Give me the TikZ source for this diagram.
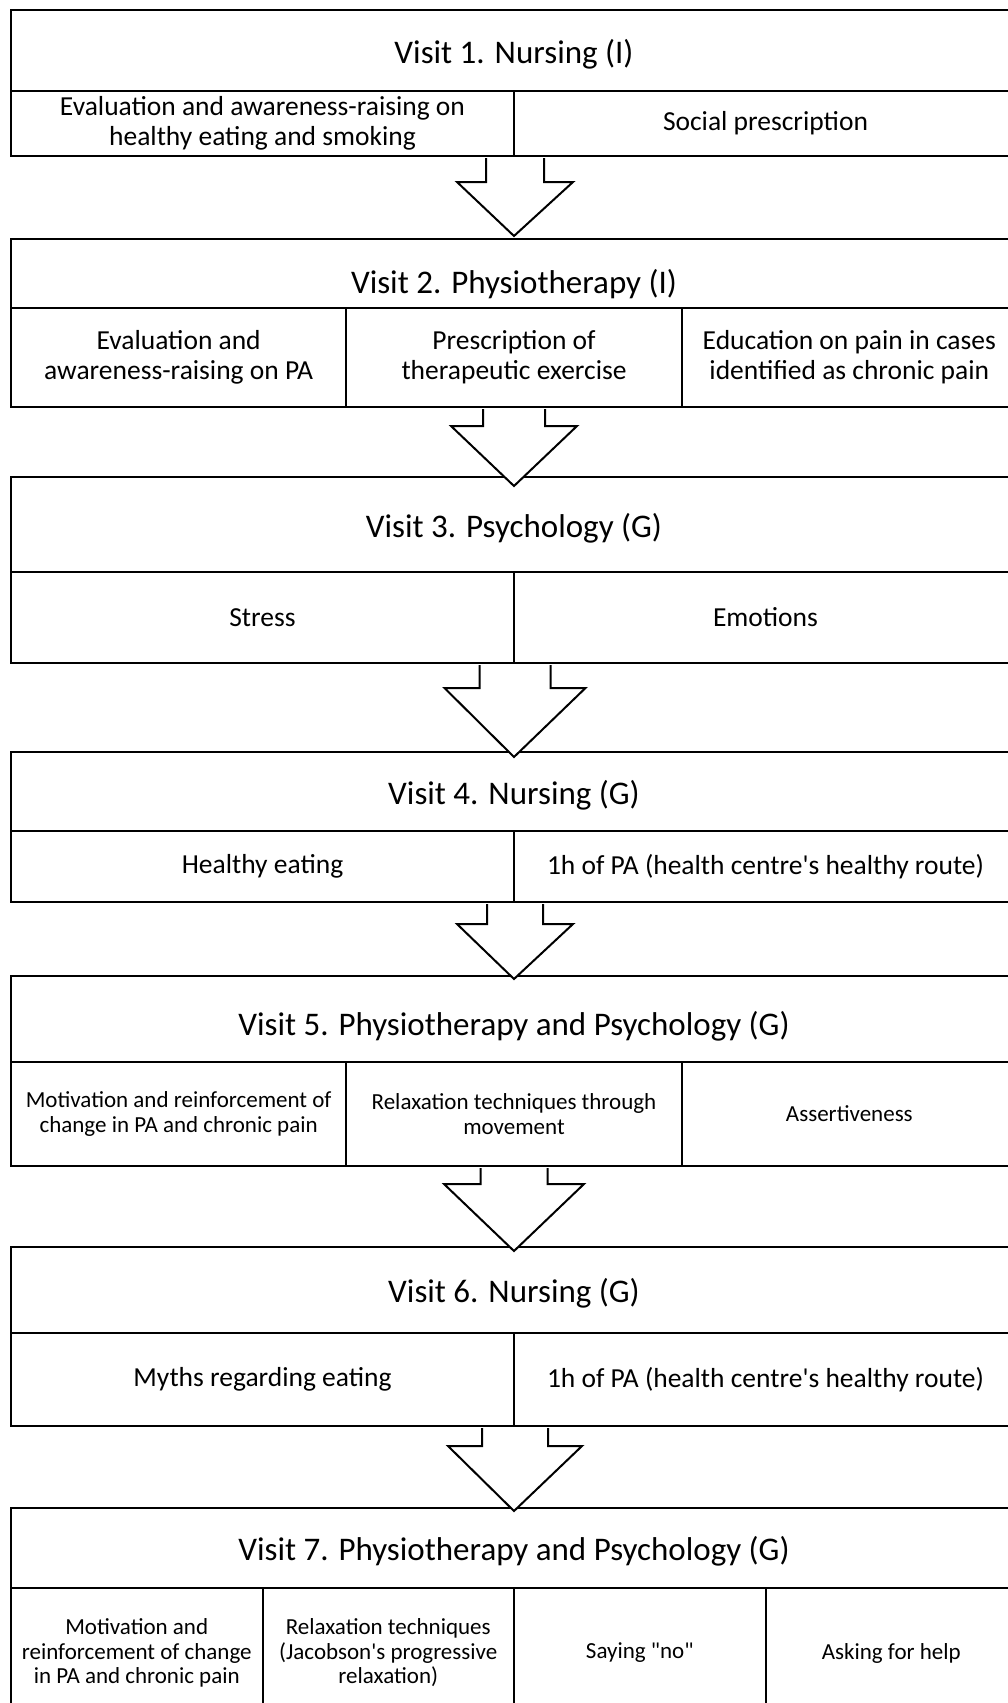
\documentclass[tikz,border=0pt]{standalone}
\usepackage{fontspec}
\newfontfamily\carlito{Carlito}
\usetikzlibrary{calc}

\begin{document}
\begin{tikzpicture}[x=1pt,y=-1pt,
	visit/.style={draw,rectangle,line width=2pt,inner sep=0pt,minimum width=1006pt,text height=26pt,text depth=0pt,font=\carlito\fontsize{33}{36}\selectfont},
	item/.style={draw,rectangle,line width=2pt,inner sep=0pt,align=center,font=\carlito\fontsize{27.5}{30}\selectfont},
	smallitem/.style={item,font=\carlito\fontsize{23}{24.5}\selectfont},
	blockarrow/.style={draw,fill=white,line width=2pt,line join=miter}]
		\useasboundingbox (0,0) rectangle (1008,1703);
		\clip (0,0) rectangle (1008,1703);
		% visit 1
		\node (v1)  [visit,minimum height=81pt] at (514,50.5) {Visit 1. Nursing (I)};
		\node (v1a) [item,minimum width=503pt,minimum height=65pt] at (262.5,123.5) {Evaluation and awareness-raising on\\healthy eating and smoking};
		\node (v1b) [item,minimum width=503pt,minimum height=65pt] at (765.5,123.5) {Social prescription};
		% visit 2
		\node (v2)  [visit,minimum height=69pt,text height=40pt] at (514,273.5) {Visit 2. Physiotherapy (I)};
		\node (v2a) [item,minimum width=335.33pt,minimum height=99pt] at (178.67,357.5) {Evaluation and\\awareness-raising on PA};
		\node (v2b) [item,minimum width=335.33pt,minimum height=99pt] at (514,357.5) {Prescription of\\therapeutic exercise};
		\node (v2c) [item,minimum width=335.33pt,minimum height=99pt] at (849.33,357.5) {Education on pain in cases\\identified as chronic pain};
		% visit 3
		\node (v3)  [visit,minimum height=95pt] at (514,524.5) {Visit 3. Psychology (G)};
		\node (v3a) [item,minimum width=503pt,minimum height=91pt] at (262.5,617.5) {Stress};
		\node (v3b) [item,minimum width=503pt,minimum height=91pt] at (765.5,617.5) {Emotions};
		% visit 4
		\node (v4)  [visit,minimum height=79pt] at (514,791.5) {Visit 4. Nursing (G)};
		\node (v4a) [item,minimum width=503pt,minimum height=71pt] at (262.5,866.5) {Healthy eating};
		\node (v4b) [item,minimum width=503pt,minimum height=71pt] at (765.5,866.5) {1h of PA (health centre's healthy route)};
		% visit 5
		\node (v5)  [visit,minimum height=86pt,text height=32pt] at (514,1019) {Visit 5. Physiotherapy and Psychology (G)};
		\node (v5a) [smallitem,minimum width=335.33pt,minimum height=104pt] at (178.67,1114) {Motivation and reinforcement of\\change in PA and chronic pain};
		\node (v5b) [smallitem,minimum width=335.33pt,minimum height=104pt] at (514,1114) {Relaxation techniques through\\movement};
		\node (v5c) [smallitem,minimum width=335.33pt,minimum height=104pt] at (849.33,1114) {Assertiveness};
		% visit 6
		\node (v6)  [visit,minimum height=86pt,text height=25pt] at (514,1290) {Visit 6. Nursing (G)};
		\node (v6a) [item,minimum width=503pt,minimum height=93pt] at (262.5,1379.5) {Myths regarding eating};
		\node (v6b) [item,minimum width=503pt,minimum height=93pt] at (765.5,1379.5) {1h of PA (health centre's healthy route)};
		% visit 7
		\node (v7)  [visit,minimum height=80pt,text height=25pt] at (514,1548) {Visit 7. Physiotherapy and Psychology (G)};
		\node (v7a) [smallitem,minimum width=251.5pt,minimum height=130pt] at (136.75,1653) {Motivation and\\reinforcement of change\\in PA and chronic pain};
		\node (v7b) [smallitem,minimum width=251.5pt,minimum height=130pt] at (388.25,1653) {Relaxation techniques\\(Jacobson's progressive\\relaxation)};
		\node (v7c) [smallitem,minimum width=251.5pt,minimum height=130pt] at (639.75,1653) {Saying "no"};
		\node (v7d) [smallitem,minimum width=251.5pt,minimum height=130pt] at (891.25,1653) {Asking for help};
		% arrows between visits
		\draw [blockarrow] ($(v1a.south east)+(-29,1)$) -- ++(0,24) -- ++(-29,0) -- ($(v2.north)+(0,-2)$) -- ($(v1a.south east)+(58,25)$) -- ++(-29,0) -- ++(0,-24);
		\draw [blockarrow] ($(v2b.south)+(-31,1)$) -- ++(0,17) -- ++(-32,0) -- ($(v3.north)+(0,10)$) -- ($(v2b.south)+(63,18)$) -- ++(-32,0) -- ++(0,-17);
		\draw [blockarrow] ($(v3a.south east)+(-35.5,1)$) -- ++(0,23) -- ++(-35,0) -- ($(v4.north)+(0,6)$) -- ($(v3a.south east)+(70.5,24)$) -- ++(-35,0) -- ++(0,-23);
		\draw [blockarrow] ($(v4a.south east)+(-28,1)$) -- ++(0,20) -- ++(-30,0) -- ($(v5.north)+(0,4)$) -- ($(v4a.south east)+(58,21)$) -- ++(-30,0) -- ++(0,-20);
		\draw [blockarrow] ($(v5b.south)+(-33.5,1)$) -- ++(0,16) -- ++(-36.5,0) -- ($(v6.north)+(0,5)$) -- ($(v5b.south)+(70,17)$) -- ++(-36.5,0) -- ++(0,-16);
		\draw [blockarrow] ($(v6a.south east)+(-33,1)$) -- ++(0,18) -- ++(-34,0) -- ($(v7.north)+(0,4)$) -- ($(v6a.south east)+(67,19)$) -- ++(-34,0) -- ++(0,-18);
	\end{tikzpicture}
\end{document}
